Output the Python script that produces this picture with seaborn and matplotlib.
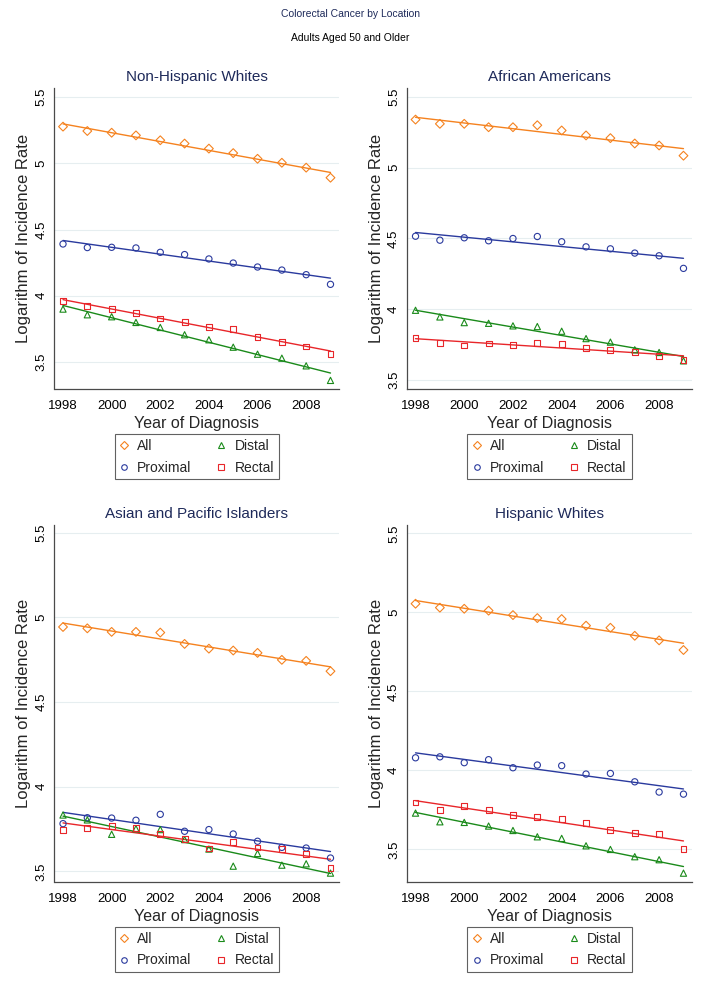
import matplotlib
matplotlib.use("Agg")
import matplotlib.pyplot as plt
from matplotlib.lines import Line2D
import seaborn as sns
import numpy as np
import pandas as pd

sns.set_theme(style="white")
plt.rcParams['font.family'] = ['Liberation Sans', 'DejaVu Sans']

years = list(range(1998, 2010))
series_names = ["All", "Proximal", "Distal", "Rectal"]

# Non-Hispanic Whites
nhw_all = [5.278, 5.245, 5.232, 5.212, 5.175, 5.150, 5.112, 5.078, 5.035, 5.005, 4.968, 4.892]
nhw_prox = [4.391, 4.364, 4.366, 4.361, 4.328, 4.311, 4.278, 4.247, 4.217, 4.194, 4.159, 4.086]
nhw_dist = [3.899, 3.856, 3.841, 3.798, 3.760, 3.705, 3.667, 3.611, 3.558, 3.528, 3.470, 3.360]
nhw_rect = [3.962, 3.924, 3.899, 3.869, 3.828, 3.803, 3.765, 3.747, 3.689, 3.652, 3.616, 3.561]

# African Americans
aa_all = [5.340, 5.310, 5.310, 5.286, 5.286, 5.300, 5.263, 5.228, 5.209, 5.171, 5.157, 5.085]
aa_prox = [4.516, 4.488, 4.505, 4.484, 4.500, 4.514, 4.477, 4.441, 4.427, 4.397, 4.378, 4.289]
aa_dist = [3.993, 3.946, 3.906, 3.901, 3.883, 3.878, 3.845, 3.793, 3.768, 3.714, 3.695, 3.636]
aa_rect = [3.796, 3.765, 3.744, 3.758, 3.746, 3.765, 3.756, 3.728, 3.714, 3.697, 3.671, 3.643]

# Asian and Pacific Islanders
api_all = [4.943, 4.935, 4.914, 4.914, 4.910, 4.843, 4.815, 4.804, 4.790, 4.749, 4.743, 4.682]
api_prox = [3.782, 3.817, 3.815, 3.802, 3.837, 3.737, 3.747, 3.721, 3.678, 3.642, 3.638, 3.579]
api_dist = [3.833, 3.804, 3.719, 3.752, 3.747, 3.688, 3.632, 3.531, 3.606, 3.537, 3.545, 3.490]
api_rect = [3.743, 3.758, 3.768, 3.758, 3.723, 3.692, 3.635, 3.673, 3.641, 3.632, 3.604, 3.520]

# Hispanic Whites
hw_all = [5.055, 5.030, 5.023, 5.011, 4.983, 4.964, 4.958, 4.916, 4.903, 4.852, 4.823, 4.762]
hw_prox = [4.080, 4.086, 4.049, 4.068, 4.017, 4.034, 4.030, 3.977, 3.981, 3.928, 3.863, 3.850]
hw_dist = [3.730, 3.675, 3.671, 3.648, 3.620, 3.580, 3.570, 3.523, 3.500, 3.454, 3.435, 3.350]
hw_rect = [3.797, 3.749, 3.774, 3.751, 3.719, 3.703, 3.692, 3.665, 3.622, 3.603, 3.595, 3.504]

panel_titles = ["Non-Hispanic Whites", "African Americans",
                "Asian and Pacific Islanders", "Hispanic Whites"]
panel_data = [
    [nhw_all, nhw_prox, nhw_dist, nhw_rect],
    [aa_all, aa_prox, aa_dist, aa_rect],
    [api_all, api_prox, api_dist, api_rect],
    [hw_all, hw_prox, hw_dist, hw_rect],
]
panel_ylims = [(3.295, 5.57), (3.437, 5.563), (3.4375, 5.545), (3.294, 5.553)]

yticks = [3.5, 4, 4.5, 5, 5.5]
ytick_labels = ["3.5", "4", "4.5", "5", "5.5"]
xticks = [1998, 2000, 2002, 2004, 2006, 2008]

colors = {"All": "#f5821f", "Proximal": "#2a3a9e", "Distal": "#1a8a1a", "Rectal": "#e8262a"}
markers = {"All": "D", "Proximal": "o", "Distal": "^", "Rectal": "s"}
msizes = {"All": 20, "Proximal": 20, "Distal": 20, "Rectal": 18}

W, H = 701, 984
fig = plt.figure(figsize=(W / 100, H / 100), dpi=100)
fig.patch.set_facecolor("white")

navy = "#1e2a5a"
fig.text(0.5, 1 - 14 / H, "Colorectal Cancer by Location", ha="center", va="center",
         fontsize=7.5, color=navy)
fig.text(0.5, 1 - 38 / H, "Adults Aged 50 and Older", ha="center", va="center",
         fontsize=7.5, color="black")

# axes rectangles in pixels: (left, top, right, bottom)
rects = [(54.5, 88, 339, 389), (407, 88, 692, 389),
         (54.5, 525, 339, 882), (407, 525, 692, 882)]

for i, (l, t, r, b) in enumerate(rects):
    ax = fig.add_axes([l / W, 1 - b / H, (r - l) / W, (b - t) / H])
    ax.set_facecolor("white")
    ax.set_ylim(*panel_ylims[i])
    ax.set_xlim(1997.65, 2009.35)
    ax.set_yticks(yticks)
    ax.set_yticklabels(ytick_labels, rotation=90, va="center")
    ax.set_xticks(xticks)
    ax.grid(axis="y", color="#e6eef0", linewidth=0.8)
    ax.grid(axis="x", visible=False)
    ax.set_axisbelow(True)
    for s in ["top", "right"]:
        ax.spines[s].set_visible(False)
    for s in ["left", "bottom"]:
        ax.spines[s].set_color("#4a4a4a")
        ax.spines[s].set_linewidth(0.9)
    ax.tick_params(axis="both", direction="out", length=4, width=0.8, color="#4a4a4a",
                   labelsize=9.5, labelcolor="black")
    ax.tick_params(axis="x", pad=4)
    ax.tick_params(axis="y", pad=1)

    for name, vals in zip(series_names, panel_data[i]):
        df = pd.DataFrame({"year": years, "value": vals})
        c = colors[name]
        sns.regplot(data=df, x="year", y="value", ax=ax, scatter=False, ci=None,
                    truncate=True, line_kws={"color": c, "linewidth": 1.0})
    for name, vals in zip(series_names, panel_data[i]):
        df = pd.DataFrame({"year": years, "value": vals})
        c = colors[name]
        sns.scatterplot(data=df, x="year", y="value", ax=ax, marker=markers[name],
                        s=msizes[name], color=c, legend=False, zorder=3)
        coll = ax.collections[-1]
        coll.set_facecolor("none")
        coll.set_edgecolor(c)
        coll.set_linewidth(0.8)

    ax.set_ylabel("Logarithm of Incidence Rate", fontsize=12, labelpad=3)
    ax.set_xlabel("Year of Diagnosis", fontsize=11.5, labelpad=3)
    ax.set_title(panel_titles[i], fontsize=11, color=navy, pad=5)

    handles = [Line2D([], [], linestyle="none", marker=markers[n], markersize=4.0,
                      markerfacecolor="none", markeredgecolor=colors[n],
                      markeredgewidth=0.8, label=n) for n in series_names]
    cx = (l + r) / 2
    leg = fig.legend(handles=handles, ncol=2, loc="upper center",
                     bbox_to_anchor=(cx / W, 1 - (b + 45) / H),
                     borderaxespad=0, frameon=True, fancybox=False, fontsize=10,
                     handlelength=0.6, handletextpad=0.65, columnspacing=1.85,
                     borderpad=0.35, labelspacing=0.55)
    leg.get_frame().set_edgecolor("#3a3a3a")
    leg.get_frame().set_linewidth(0.8)

fig.savefig("out.png", dpi=100, facecolor="white")
